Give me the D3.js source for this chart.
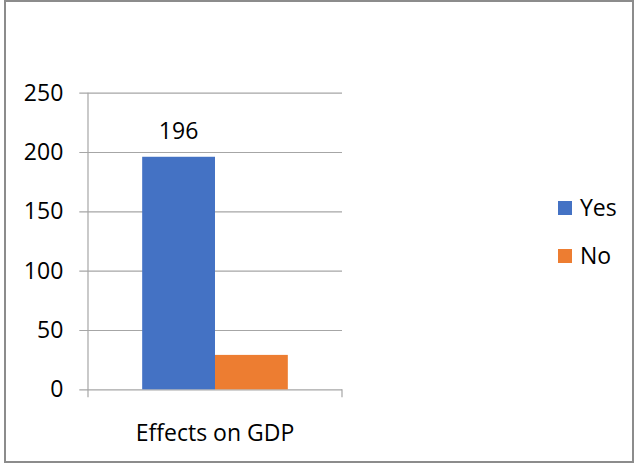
<!DOCTYPE html>
<html>
<head>
<meta charset="utf-8">
<script src="https://cdn.jsdelivr.net/npm/d3@7"></script>
<style>
  html, body { margin: 0; padding: 0; background: #fff; }
  svg { display: block; }
  text { font-family: "Open Sans", "Liberation Sans", Arial, sans-serif; fill: #000; }
</style>
</head>
<body>
<svg id="chart" width="635" height="465"></svg>
<script>
const categories = ["Effects on GDP"];
const seriesNames = ["Yes", "No"];
const yesValues = [196];
const noValues = [29];
const yTicks = [0, 50, 100, 150, 200, 250];
const colors = ["#4472C4", "#ED7D31"];

const svg = d3.select("#chart");
const fontSize = 23;
const fontFamily = '"Open Sans", "Liberation Sans", Arial, sans-serif';

// outer border
svg.append("rect")
  .attr("x", 5).attr("y", 1).attr("width", 628).attr("height", 461)
  .attr("fill", "#fff").attr("stroke", "#8c8c8c").attr("stroke-width", 2);

const plotLeft = 88, plotRight = 342, plotTop = 92.7, plotBottom = 389.3;

const y = d3.scaleLinear().domain([0, 250]).range([plotBottom, plotTop]);
const x0 = d3.scaleBand().domain(categories).range([plotLeft, plotRight])
  .paddingInner(0).paddingOuter(0.372);
const x1 = d3.scaleBand().domain(seriesNames).range([0, x0.bandwidth()]).padding(0);

// gridlines + y labels
const yAxis = d3.axisLeft(y).tickValues(yTicks).tickSize(plotRight - 79.3).tickPadding(16);
const gy = svg.append("g").attr("transform", `translate(${plotRight},0)`).call(yAxis);
gy.select(".domain").remove();
gy.selectAll(".tick line").attr("stroke", "#a6a6a6").attr("stroke-width", 1.2);
gy.selectAll(".tick text").style("font-size", fontSize + "px")
  .style("font-family", fontFamily).attr("fill", "#000");

// vertical axis line
svg.append("line")
  .attr("x1", plotLeft).attr("x2", plotLeft)
  .attr("y1", y(250)).attr("y2", plotBottom + 8)
  .attr("stroke", "#a6a6a6").attr("stroke-width", 1.2);
// category axis edge tick
svg.append("line")
  .attr("x1", plotRight).attr("x2", plotRight)
  .attr("y1", plotBottom).attr("y2", plotBottom + 8)
  .attr("stroke", "#a6a6a6").attr("stroke-width", 1.2);

// bars
const rows = categories.map((c, i) => ({ cat: c, values: [yesValues[i], noValues[i]] }));
const groups = svg.append("g").selectAll("g").data(rows).join("g")
  .attr("transform", d => `translate(${x0(d.cat)},0)`);
groups.selectAll("rect")
  .data(d => d.values.map((v, j) => ({ key: seriesNames[j], value: v, idx: j })))
  .join("rect")
  .attr("x", d => x1(d.key))
  .attr("y", d => y(d.value))
  .attr("width", x1.bandwidth())
  .attr("height", d => y(0) - y(d.value))
  .attr("fill", d => colors[d.idx]);

// data label for Yes
groups.append("text")
  .attr("x", d => x1("Yes") + x1.bandwidth() / 2)
  .attr("y", d => y(d.values[0]) - 18)
  .attr("text-anchor", "middle")
  .style("font-size", fontSize + "px")
  .text(d => d.values[0]);

// category label
svg.append("g").selectAll("text").data(categories).join("text")
  .attr("x", d => x0(d) + x0.bandwidth() / 2)
  .attr("y", 441)
  .attr("text-anchor", "middle")
  .style("font-size", fontSize + "px")
  .text(d => d);

// legend
const legend = svg.append("g").selectAll("g").data(seriesNames).join("g")
  .attr("transform", (d, i) => `translate(558,${201 + i * 48})`);
legend.append("rect").attr("width", 14).attr("height", 14)
  .attr("fill", (d, i) => colors[i]);
legend.append("text").attr("x", 22).attr("y", 15)
  .style("font-size", fontSize + "px")
  .text(d => d);
</script>
</body>
</html>
